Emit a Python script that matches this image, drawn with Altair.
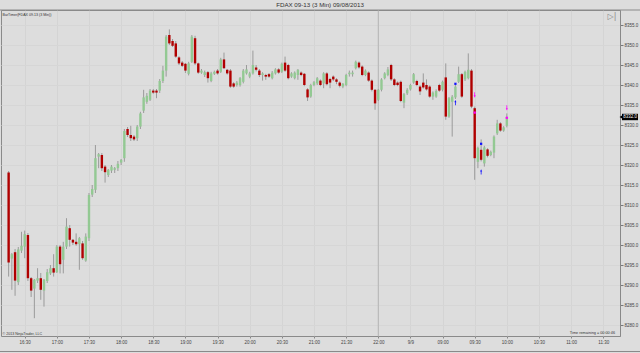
import altair as alt
import pandas as pd

TITLE = "FDAX 09-13 (3 Min)  09/08/2013"
INDICATOR = "BarTimer(FDAX 09-13 (3 Min))"
COPYRIGHT = "\u00a9 2013 NinjaTrader, LLC"
TIMER = "Time remaining = 00:00:46"

opens = [8318.1, 8296.6, 8298.2, 8290.7, 8298.6, 8299.6, 8302.5, 8291.7, 8289.1, 8291.1,
         8291.7, 8288.6, 8291.0, 8292.9, 8294.2, 8293.2, 8299.6, 8296.3, 8299.6, 8304.2,
         8301.3, 8300.8, 8300.2, 8300.4, 8296.1, 8301.7, 8312.6, 8313.8, 8322.1, 8322.5,
         8319.6, 8317.5, 8318.6, 8318.8, 8319.2, 8320.6, 8321.7, 8329.0, 8327.5, 8327.1,
         8326.7, 8329.6, 8333.6, 8335.8, 8336.3, 8338.6, 8338.6, 8338.6, 8341.0, 8343.6,
         8352.5, 8351.0, 8350.4, 8346.9, 8345.6, 8345.3, 8342.8, 8345.8, 8351.7, 8345.4,
         8343.1, 8342.5, 8343.2, 8341.0, 8342.8, 8343.6, 8343.3, 8346.4, 8343.8, 8343.6,
         8340.4, 8340.0, 8340.0, 8340.8, 8342.9, 8342.1, 8342.9, 8344.4, 8343.6, 8342.5,
         8342.5, 8342.7, 8341.7, 8342.9, 8343.9, 8343.3, 8345.6, 8345.0, 8342.1, 8341.7,
         8342.5, 8343.1, 8342.8, 8338.9, 8337.1, 8340.0, 8340.4, 8341.1, 8340.4, 8342.9,
         8341.5, 8342.1, 8341.4, 8340.6, 8339.6, 8340.0, 8342.7, 8342.7, 8344.2, 8345.6,
         8344.6, 8342.5, 8343.1, 8341.1, 8338.8, 8336.3, 8338.8, 8341.7, 8342.5, 8345.0,
         8341.4, 8340.6, 8340.8, 8335.6, 8337.9, 8338.9, 8340.6, 8341.0, 8339.6, 8340.6,
         8340.0, 8339.6, 8337.1, 8337.1, 8340.0, 8338.8, 8341.9, 8332.1, 8335.8, 8336.9,
         8340.8, 8342.7, 8341.4, 8341.7, 8343.6, 8334.2, 8320.8, 8323.8, 8320.4, 8323.9,
         8322.5, 8323.1, 8327.9, 8330.4, 8328.6, 8329.8]
highs = [8318.5, 8298.0, 8299.0, 8299.5, 8303.3, 8303.6, 8303.0, 8292.0, 8291.5, 8294.2,
         8293.0, 8291.5, 8294.0, 8295.0, 8297.7, 8300.0, 8300.0, 8300.8, 8306.7, 8305.0,
         8301.5, 8302.9, 8302.0, 8301.0, 8302.9, 8313.0, 8315.0, 8325.0, 8323.0, 8323.0,
         8320.0, 8319.0, 8320.0, 8319.5, 8321.0, 8321.5, 8329.0, 8329.5, 8329.8, 8327.5,
         8330.0, 8333.3, 8338.8, 8338.0, 8339.0, 8339.0, 8339.0, 8341.5, 8344.8, 8352.5,
         8353.9, 8351.5, 8351.0, 8347.2, 8346.0, 8345.5, 8345.8, 8352.5, 8352.3, 8345.6,
         8344.0, 8343.6, 8343.5, 8343.3, 8343.6, 8344.0, 8346.8, 8348.1, 8344.0, 8344.0,
         8340.7, 8341.0, 8342.0, 8344.0, 8345.0, 8343.3, 8348.6, 8345.0, 8344.0, 8343.2,
         8342.8, 8343.0, 8343.5, 8344.2, 8344.2, 8345.6, 8347.1, 8345.3, 8343.2, 8343.4,
         8344.0, 8343.4, 8343.0, 8339.2, 8340.3, 8341.0, 8342.0, 8341.4, 8343.2, 8343.2,
         8341.8, 8342.4, 8341.7, 8340.9, 8340.5, 8342.8, 8343.6, 8343.6, 8346.1, 8345.9,
         8344.9, 8343.9, 8343.4, 8341.4, 8339.0, 8339.0, 8341.7, 8343.2, 8344.5, 8345.3,
         8341.7, 8340.9, 8341.1, 8338.0, 8339.2, 8340.3, 8343.0, 8341.3, 8339.9, 8342.9,
         8341.4, 8339.9, 8338.4, 8338.9, 8340.3, 8341.1, 8345.4, 8337.0, 8337.5, 8340.2,
         8344.6, 8343.0, 8343.6, 8347.9, 8344.0, 8334.6, 8324.6, 8326.4, 8324.8, 8324.2,
         8323.6, 8327.4, 8331.3, 8330.7, 8329.7, 8332.9]
lows = [8292.1, 8288.8, 8287.3, 8290.0, 8298.0, 8296.7, 8291.0, 8287.0, 8281.7, 8290.5,
        8286.3, 8284.6, 8290.5, 8292.5, 8292.1, 8293.0, 8292.9, 8292.9, 8299.0, 8299.6,
        8300.0, 8299.8, 8293.8, 8296.3, 8295.8, 8301.0, 8312.0, 8313.0, 8319.2, 8318.5,
        8315.6, 8317.0, 8318.0, 8318.0, 8318.5, 8320.0, 8320.8, 8327.0, 8326.0, 8326.0,
        8326.0, 8329.0, 8333.0, 8335.3, 8336.0, 8337.8, 8336.7, 8338.0, 8340.5, 8342.1,
        8350.0, 8349.5, 8346.8, 8345.0, 8344.5, 8343.0, 8342.4, 8345.5, 8345.0, 8342.8,
        8342.8, 8342.0, 8340.6, 8340.7, 8342.5, 8342.6, 8343.0, 8344.0, 8342.6, 8339.3,
        8339.3, 8339.6, 8339.6, 8340.4, 8342.6, 8341.7, 8342.6, 8343.4, 8342.0, 8341.1,
        8341.3, 8341.8, 8341.4, 8342.6, 8342.8, 8343.0, 8343.3, 8341.4, 8341.8, 8341.4,
        8341.3, 8342.2, 8339.7, 8336.0, 8336.8, 8339.7, 8340.0, 8339.7, 8339.2, 8339.9,
        8339.2, 8341.0, 8340.2, 8339.4, 8339.2, 8339.7, 8342.1, 8342.1, 8343.9, 8344.1,
        8342.2, 8342.2, 8340.8, 8338.4, 8333.8, 8336.0, 8338.4, 8341.4, 8342.2, 8341.0,
        8339.7, 8339.7, 8335.7, 8334.2, 8337.5, 8338.6, 8340.3, 8339.7, 8337.5, 8339.1,
        8338.6, 8336.8, 8336.3, 8336.8, 8338.3, 8338.4, 8331.3, 8331.8, 8327.1, 8336.5,
        8340.5, 8336.8, 8341.0, 8341.4, 8334.2, 8316.3, 8319.2, 8320.9, 8319.6, 8321.9,
        8322.2, 8321.7, 8327.5, 8328.3, 8328.3, 8329.4]
closes = [8295.6, 8297.7, 8291.1, 8298.9, 8299.8, 8302.7, 8291.7, 8288.6, 8291.3, 8291.7,
          8288.8, 8291.3, 8293.2, 8294.2, 8293.1, 8299.6, 8295.2, 8299.6, 8304.6, 8301.3,
          8300.6, 8300.2, 8301.7, 8296.7, 8302.1, 8312.5, 8314.0, 8321.7, 8322.7, 8319.2,
          8318.2, 8318.8, 8319.6, 8319.2, 8320.3, 8321.3, 8328.5, 8327.5, 8326.7, 8326.4,
          8329.6, 8332.9, 8336.9, 8337.3, 8338.6, 8338.1, 8338.1, 8341.0, 8343.6, 8352.1,
          8350.4, 8349.8, 8347.1, 8345.4, 8344.8, 8343.6, 8345.4, 8352.1, 8345.4, 8343.1,
          8343.6, 8343.2, 8341.7, 8342.9, 8343.3, 8342.9, 8346.4, 8344.2, 8342.9, 8339.6,
          8339.6, 8340.6, 8341.7, 8343.6, 8343.9, 8342.9, 8345.0, 8343.8, 8342.5, 8342.9,
          8342.1, 8342.1, 8343.1, 8343.9, 8343.1, 8345.3, 8343.6, 8341.7, 8342.9, 8343.1,
          8343.8, 8342.5, 8340.0, 8336.9, 8340.0, 8340.7, 8341.7, 8340.0, 8342.9, 8340.2,
          8340.6, 8341.4, 8340.8, 8339.8, 8340.3, 8342.5, 8343.1, 8343.1, 8345.8, 8344.4,
          8342.5, 8343.6, 8341.1, 8338.8, 8335.4, 8338.8, 8341.4, 8342.9, 8343.9, 8341.4,
          8340.0, 8340.0, 8336.0, 8337.7, 8338.8, 8340.0, 8342.7, 8340.0, 8338.4, 8339.4,
          8338.9, 8337.1, 8338.1, 8338.5, 8338.6, 8340.8, 8332.1, 8336.7, 8337.1, 8339.6,
          8342.7, 8337.1, 8343.3, 8343.8, 8334.6, 8321.7, 8324.3, 8321.3, 8324.4, 8322.3,
          8323.3, 8327.1, 8330.4, 8328.6, 8329.4, 8332.0]

tick_idx = [5 + 10 * k for k in range(19)]
tick_labels = ["16:30", "17:00", "17:30", "18:00", "18:30", "19:00", "19:30", "20:00",
               "20:30", "21:00", "21:30", "22:00", "9/9", "09:00", "09:30", "10:00",
               "10:30", "11:00", "11:30"]
y_ticks = [8280 + 5 * k for k in range(16)]
session_break = [115]

up_arrow_idx = [139, 147]
up_arrow_price = [8335.6, 8318.3]
down_arrow_idx = [145, 155]
down_arrow_price = [8337.5, 8334.3]
dot_idx = [139, 147]
dot_price = [8340.3, 8325.3]
sq_idx = [145, 155]
sq_price = [8333.1, 8331.8]
last_price = [8332.0]

FONT = "Liberation Sans"
BG = "#dddddd"
GREEN = "#93c993"
RED = "#b00000"

W, H = 619, 326

candles = pd.DataFrame({
    "i": list(range(len(opens))),
    "o": opens, "h": highs, "l": lows, "c": closes,
})
candles["dir"] = ["up" if c >= o else "down" for o, c in zip(opens, closes)]

xscale = alt.Scale(domain=[-0.82, 188.65], nice=False, zero=False)
yscale = alt.Scale(domain=[8277.25, 8358.75], nice=False, zero=False)

label_js = "[" + ",".join("'" + s + "'" for s in tick_labels) + "][round((datum.value-5)/10)]"

x_axis = alt.Axis(values=tick_idx, labelExpr=label_js, title=None, grid=True,
                  gridColor="#d4d4d4", gridWidth=1, tickSize=2, tickColor="#888888",
                  domain=False, labelFontSize=4.5, labelFont=FONT, labelColor="#444444",
                  labelPadding=1)
y_axis = alt.Axis(values=y_ticks, format=".1f", orient="right", title=None, grid=True,
                  gridColor="#d6d6d6", gridWidth=1,
                  tickSize=3, tickColor="#777777", domainColor="#888888", labelFontSize=4.5,
                  labelFont=FONT, labelColor="#444444", labelPadding=1)


def X(field):
    return alt.X(field, scale=xscale, axis=x_axis)


def Y(field):
    return alt.Y(field, scale=yscale, axis=y_axis)


session = alt.Chart(pd.DataFrame({"i": session_break})).mark_rule(
    color="#b4b4b4", strokeWidth=1).encode(
    x=X("i:Q"), y=alt.value(0), y2=alt.value(H))

wicks = alt.Chart(candles).mark_rule(color="#9a9a9a", strokeWidth=1).encode(
    x=X("i:Q"), y=Y("l:Q"), y2="h:Q")

bodies = alt.Chart(candles).mark_bar(size=2.4).encode(
    x=X("i:Q"), y=Y("o:Q"), y2="c:Q",
    color=alt.Color("dir:N", scale=alt.Scale(domain=["up", "down"], range=[GREEN, RED]),
                    legend=None),
)


def pts(idx, price):
    return pd.DataFrame({"i": idx, "p": price})


up_arrows = alt.Chart(pts(up_arrow_idx, up_arrow_price)).mark_point(
    shape="arrow", filled=True, color="#1010ff", size=28, opacity=1).encode(
    x=X("i:Q"), y=Y("p:Q"))
down_arrows = alt.Chart(pts(down_arrow_idx, down_arrow_price)).mark_point(
    shape="arrow", filled=True, color="#ff00ff", size=28, angle=180, opacity=1).encode(
    x=X("i:Q"), y=Y("p:Q"))
dots = alt.Chart(pts(dot_idx, dot_price)).mark_point(
    shape="square", filled=True, color="#1010ff", size=5, opacity=1).encode(
    x=X("i:Q"), y=Y("p:Q"))
squares = alt.Chart(pts(sq_idx, sq_price)).mark_point(
    shape="square", filled=True, color="#ff00ff", size=5, opacity=1).encode(
    x=X("i:Q"), y=Y("p:Q"))

tag_df = pd.DataFrame({"p": last_price, "hi": [last_price[0] + 0.8],
                       "lo": [last_price[0] - 0.8],
                       "t": ["%.1f" % last_price[0]]})
tag_rect = alt.Chart(tag_df).mark_rect(color="#000000").encode(
    x=alt.value(621), x2=alt.value(637), y=Y("hi:Q"), y2="lo:Q")
tag_tri = alt.Chart(tag_df).mark_point(shape="triangle-left", filled=True,
                                       color="#000000", size=12, opacity=1).encode(
    x=alt.value(620), y=Y("p:Q"))
tag_text = alt.Chart(tag_df).mark_text(color="#ffffff", fontSize=4.5, font=FONT,
                                       align="center", baseline="middle").encode(
    x=alt.value(629), y=Y("p:Q"), text="t:N")


def label(txt, x, y, align="left", size=4.0, color="#333333", font=FONT):
    return alt.Chart(pd.DataFrame({"t": [txt]})).mark_text(
        align=align, baseline="middle", fontSize=size, font=font, color=color).encode(
        x=alt.value(x), y=alt.value(y), text="t:N")


top_line = alt.Chart(pd.DataFrame({"a": [0]})).mark_rule(color="#8a8a8a").encode(
    x=alt.value(-1), x2=alt.value(639), y=alt.value(0))
bottom_line = alt.Chart(pd.DataFrame({"a": [0]})).mark_rule(color="#8a8a8a").encode(
    x=alt.value(-1), x2=alt.value(639), y=alt.value(341.5))

layers = [
    session, wicks, bodies, dots, squares, up_arrows, down_arrows,
    tag_rect, tag_tri, tag_text, top_line, bottom_line,
    label(TITLE, 319, -5, align="center", size=6.2, color="#333333"),
    label(INDICATOR, 1.5, 4.5, size=3.6),
    label(COPYRIGHT, 1.5, 324, size=3.6),
    label(TIMER, 614, 322.5, align="right", size=3.8),
    label("\u25b7|", 611, 6.5, align="center", size=8, color="#8a8a8a", font="DejaVu Sans"),
]

chart = alt.layer(*layers).properties(
    width=W, height=H,
    padding={"left": 1, "top": 10, "right": 20, "bottom": 17},
    autosize=alt.AutoSizeParams(type="none"),
).configure(background=BG).configure_view(stroke="#8a8a8a", fill=BG)

chart.save("out.html", embed_options={"renderer": "svg", "actions": False})
